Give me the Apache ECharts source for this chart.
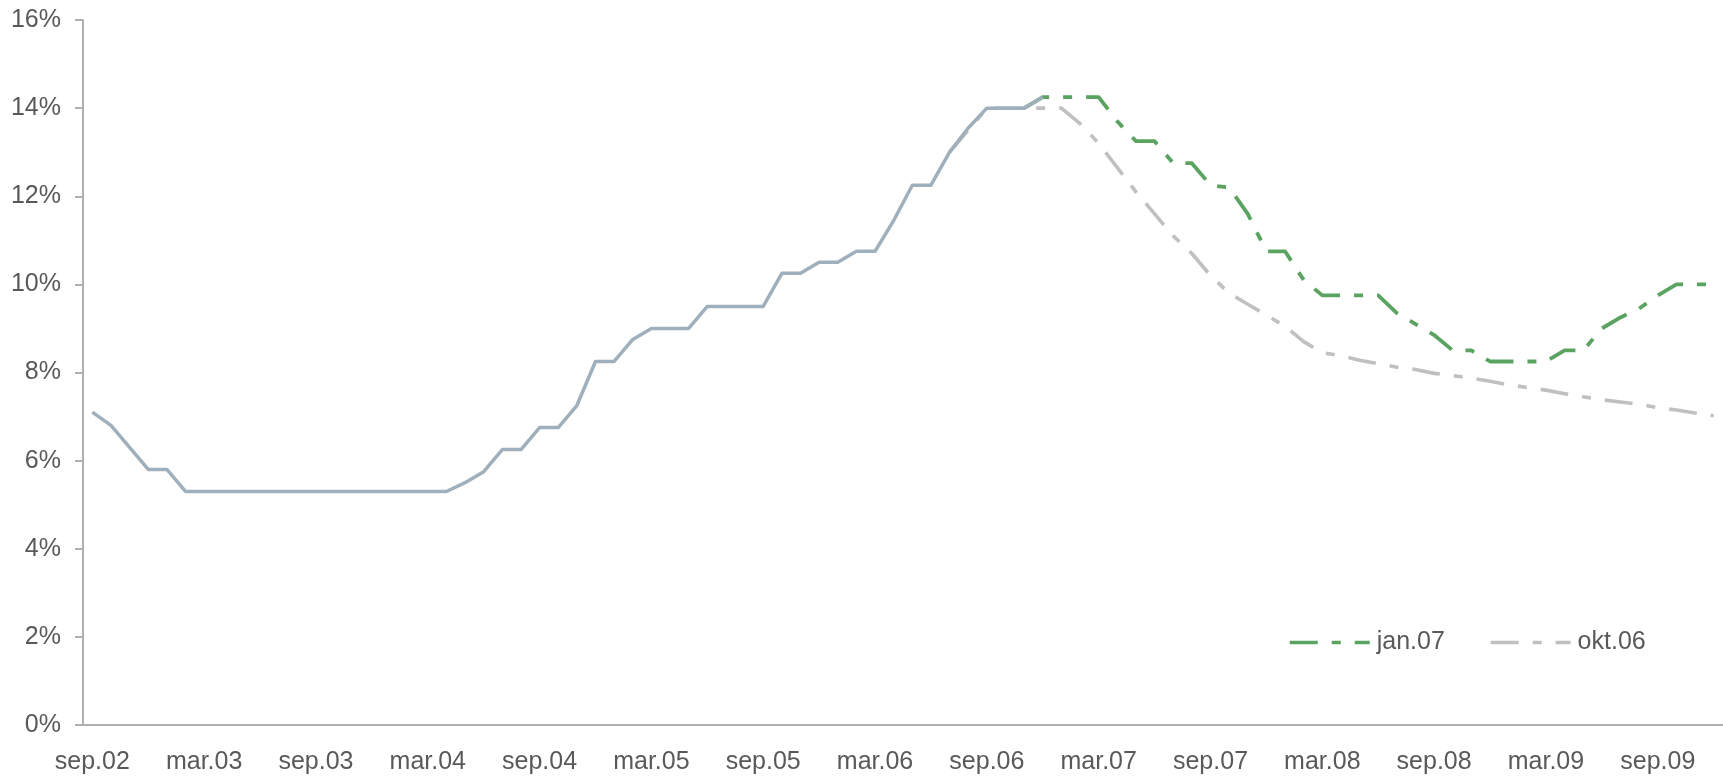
<!DOCTYPE html>
<html>
<head>
<meta charset="utf-8">
<script src="https://cdn.jsdelivr.net/npm/echarts@6/dist/echarts.min.js"></script>
<style>
  html, body { margin: 0; padding: 0; background: #ffffff; }
  #chart { width: 1723px; height: 778px; }
</style>
</head>
<body>
<div id="chart"></div>
<script>
// Monthly categories, sep.02 .. des.09
const categories = [
  'sep.02','okt.02','nov.02','des.02',
  'jan.03','feb.03','mar.03','apr.03','mai.03','jun.03','jul.03','aug.03','sep.03','okt.03','nov.03','des.03',
  'jan.04','feb.04','mar.04','apr.04','mai.04','jun.04','jul.04','aug.04','sep.04','okt.04','nov.04','des.04',
  'jan.05','feb.05','mar.05','apr.05','mai.05','jun.05','jul.05','aug.05','sep.05','okt.05','nov.05','des.05',
  'jan.06','feb.06','mar.06','apr.06','mai.06','jun.06','jul.06','aug.06','sep.06','okt.06','nov.06','des.06',
  'jan.07','feb.07','mar.07','apr.07','mai.07','jun.07','jul.07','aug.07','sep.07','okt.07','nov.07','des.07',
  'jan.08','feb.08','mar.08','apr.08','mai.08','jun.08','jul.08','aug.08','sep.08','okt.08','nov.08','des.08',
  'jan.09','feb.09','mar.09','apr.09','mai.09','jun.09','jul.09','aug.09','sep.09','okt.09','nov.09','des.09'
];

// Y-axis tick values (percent)
const yTicks = [0, 2, 4, 6, 8, 10, 12, 14, 16];

// Actual rate, sep.02 .. des.06
const actualValues = [
  7.1, 6.8, 6.3, 5.8, 5.8,
  5.3, 5.3, 5.3, 5.3, 5.3, 5.3, 5.3, 5.3, 5.3, 5.3, 5.3, 5.3, 5.3, 5.3, 5.3,
  5.5, 5.75, 6.25, 6.25, 6.75, 6.75, 7.25, 8.25, 8.25, 8.75,
  9.0, 9.0, 9.0, 9.5, 9.5, 9.5, 9.5, 10.25, 10.25, 10.5,
  10.5, 10.75, 10.75, 11.45, 12.25, 12.25, 13.0, 13.55, 14.0, 14.0,
  14.0, 14.25
];

// Forecast jan.07, starting nov.06
const jan07Start = 'nov.06';
const jan07Values = [
  14.0, 14.25, 14.25, 14.25, 14.25, 13.7, 13.25, 13.25, 12.75, 12.75,
  12.25, 12.2, 11.6, 10.75, 10.75, 10.1, 9.75, 9.75, 9.75, 9.75,
  9.35, 9.1, 8.85, 8.5, 8.5, 8.25, 8.25, 8.25, 8.25, 8.5,
  8.5, 9.0, 9.25, 9.45, 9.75, 10.0, 10.0, 10.0
];

// Forecast okt.06, starting jul.06
const okt06Start = 'jul.06';
const okt06Values = [
  13.0, 13.5, 14.0, 14.0, 14.0, 14.0, 14.0,
  13.65, 13.2, 12.65, 12.1, 11.6, 11.1, 10.7, 10.2,
  9.8, 9.55, 9.3, 9.05, 8.7, 8.45,
  8.38, 8.28, 8.2, 8.12, 8.07, 7.98, 7.93, 7.87, 7.8, 7.72,
  7.66, 7.6, 7.52, 7.45, 7.38, 7.33, 7.28, 7.2, 7.15, 7.08, 7.02
];

function place(values, startLabel) {
  const start = categories.indexOf(startLabel);
  const out = new Array(categories.length).fill(null);
  values.forEach((v, k) => { out[start + k] = v; });
  return out;
}

const FONT = "'Liberation Sans', Arial, sans-serif";
const TEXT = '#595959';
const AXIS = '#b0b0b0';
const DASH = [28, 14, 9, 14];
const FS = 25;

const chart = echarts.init(document.getElementById('chart'), null, { renderer: 'canvas' });
chart.setOption({
  animation: false,
  backgroundColor: '#ffffff',
  textStyle: { fontFamily: FONT },
  grid: { left: 83, right: 0, top: 20, bottom: 53, containLabel: false },
  legend: {
    data: ['jan.07', 'okt.06'],
    left: 1283,
    top: 625,
    itemWidth: 80,
    itemHeight: 2,
    itemGap: 44,
    itemStyle: { opacity: 0, borderWidth: 0 },
    lineStyle: { width: 3.5 },
    textStyle: { color: TEXT, fontSize: FS, fontFamily: FONT, padding: [0, 0, 0, 2] },
    selectedMode: false
  },
  xAxis: {
    type: 'category',
    data: categories,
    boundaryGap: true,
    axisLine: { show: true, lineStyle: { color: AXIS, width: 2 } },
    axisTick: { show: false },
    splitLine: { show: false },
    axisLabel: {
      interval: 5,
      color: TEXT,
      fontSize: FS,
      fontFamily: FONT,
      margin: 25,
      hideOverlap: false
    }
  },
  yAxis: {
    type: 'value',
    min: yTicks[0],
    max: yTicks[yTicks.length - 1],
    interval: 2,
    axisLine: { show: true, lineStyle: { color: AXIS, width: 2 } },
    axisTick: { show: true, length: 8, inside: false, lineStyle: { color: AXIS, width: 2 } },
    splitLine: { show: false },
    axisLabel: {
      color: TEXT,
      fontSize: FS,
      fontFamily: FONT,
      margin: 22,
      formatter: '{value}%'
    }
  },
  series: [
    {
      name: 'okt.06',
      type: 'line',
      data: place(okt06Values, okt06Start),
      showSymbol: false,
      symbol: 'none',
      connectNulls: false,
      lineStyle: { color: '#c0c0c0', width: 3.6, type: DASH, cap: 'butt', join: 'round' },
      itemStyle: { color: '#c0c0c0' },
      z: 2
    },
    {
      name: 'jan.07',
      type: 'line',
      data: place(jan07Values, jan07Start),
      showSymbol: false,
      symbol: 'none',
      lineStyle: { color: '#5ba360', width: 3.8, type: DASH, cap: 'butt', join: 'round' },
      itemStyle: { color: '#5ba360' },
      z: 3
    },
    {
      name: 'actual',
      type: 'line',
      data: place(actualValues, 'sep.02'),
      showSymbol: false,
      symbol: 'none',
      lineStyle: { color: '#9fb0bc', width: 3.5, type: 'solid', cap: 'butt', join: 'round' },
      itemStyle: { color: '#9fb0bc' },
      z: 4
    }
  ]
});
</script>
</body>
</html>
